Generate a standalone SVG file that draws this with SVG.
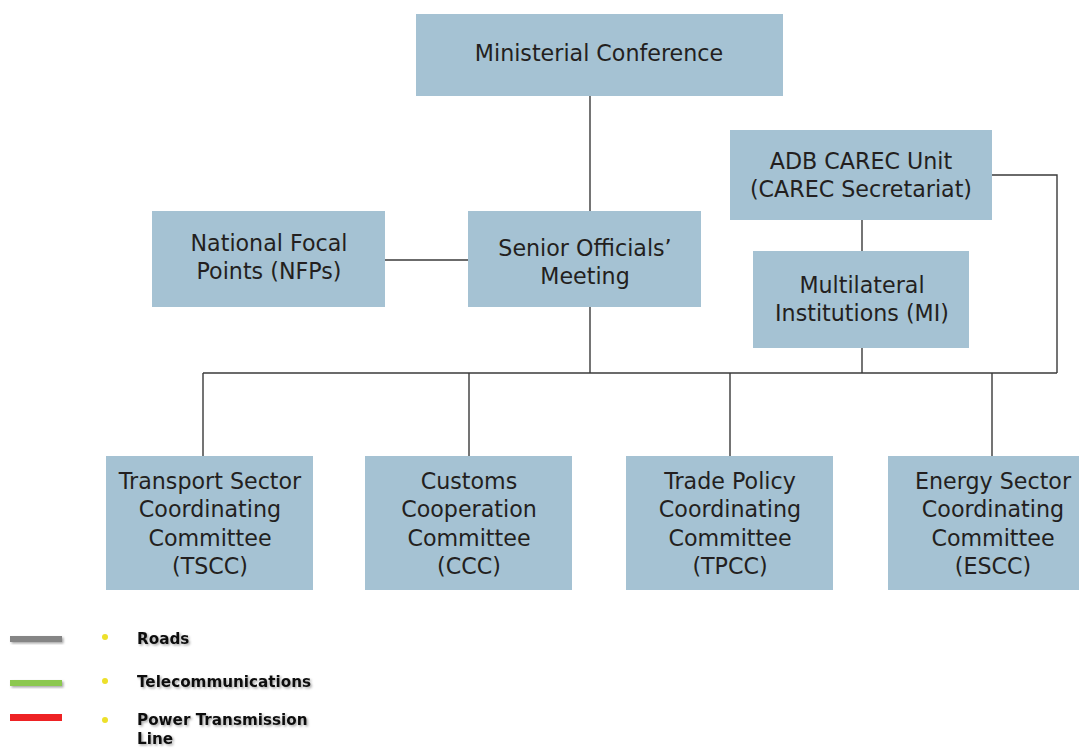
<svg xmlns="http://www.w3.org/2000/svg" width="1079" height="748" viewBox="0 0 1079 748">
<defs>
<style>
.box{fill:#a5c2d3}
.t{font-family:"DejaVu Sans","Open Sans",sans-serif;font-size:22.2px;fill:#231f20;text-anchor:middle}
.c{stroke:#3a3a3a;stroke-width:1.4;fill:none}
.lg{font-family:"DejaVu Sans","Open Sans",sans-serif;font-size:15.2px;font-weight:bold;fill:#111}
</style>
<filter id="sh" x="-10%" y="-30%" width="130%" height="180%"><feDropShadow dx="1.5" dy="1.5" stdDeviation="0.8" flood-color="#000" flood-opacity="0.35"/></filter>
</defs>
<rect width="1079" height="748" fill="#fff"/>
<g id="connectors" class="c">
<path d="M590 96V211"/>
<path d="M385 260H468"/>
<path d="M590 307V373"/>
<path d="M862 220V251"/>
<path d="M862 348V373"/>
<path d="M992 175H1057V373"/>
<path d="M203 373H1057"/>
<path d="M203 373V456M469 373V456M730 373V456M992 373V456"/>
</g>
<g id="ministerial"><rect class="box" x="416" y="14" width="367" height="82"/><text class="t" x="599" y="61">Ministerial Conference</text></g>
<g id="adb"><rect class="box" x="730" y="130" width="262" height="90"/><text class="t" x="861" y="169">ADB CAREC Unit</text><text class="t" x="861" y="197">(CAREC Secretariat)</text></g>
<g id="nfp"><rect class="box" x="152" y="211" width="233" height="96"/><text class="t" x="269" y="251">National Focal</text><text class="t" x="269" y="279">Points (NFPs)</text></g>
<g id="som"><rect class="box" x="468" y="211" width="233" height="96"/><text class="t" x="585" y="256">Senior Officials’</text><text class="t" x="585" y="284">Meeting</text></g>
<g id="mi"><rect class="box" x="753" y="251" width="216" height="97"/><text class="t" x="862" y="293">Multilateral</text><text class="t" x="862" y="321">Institutions (MI)</text></g>
<g id="tscc"><rect class="box" x="106" y="456" width="207" height="134"/><text class="t" x="210" y="489">Transport Sector</text><text class="t" x="210" y="517">Coordinating</text><text class="t" x="210" y="546">Committee</text><text class="t" x="210" y="574">(TSCC)</text></g>
<g id="ccc"><rect class="box" x="365" y="456" width="207" height="134"/><text class="t" x="469" y="489">Customs</text><text class="t" x="469" y="517">Cooperation</text><text class="t" x="469" y="546">Committee</text><text class="t" x="469" y="574">(CCC)</text></g>
<g id="tpcc"><rect class="box" x="626" y="456" width="207" height="134"/><text class="t" x="730" y="489">Trade Policy</text><text class="t" x="730" y="517">Coordinating</text><text class="t" x="730" y="546">Committee</text><text class="t" x="730" y="574">(TPCC)</text></g>
<g id="escc"><rect class="box" x="888" y="456" width="191" height="134"/><text class="t" x="993" y="489">Energy Sector</text><text class="t" x="993" y="517">Coordinating</text><text class="t" x="993" y="546">Committee</text><text class="t" x="993" y="574">(ESCC)</text></g>
<g id="legend">
<rect x="10" y="636" width="52" height="6" fill="#858585" filter="url(#sh)"/>
<rect x="10" y="680" width="52" height="6" fill="#8cc850" filter="url(#sh)"/>
<rect x="10" y="714" width="52" height="7" fill="#ee2224"/>
<circle cx="105" cy="637" r="3" fill="#ede02a"/>
<circle cx="105" cy="681" r="3" fill="#ede02a"/>
<circle cx="105" cy="720" r="3" fill="#ede02a"/>
<g filter="url(#sh)">
<text class="lg" x="137" y="644">Roads</text>
<text class="lg" x="137" y="687">Telecommunications</text>
<text class="lg" x="137" y="725">Power Transmission</text>
<text class="lg" x="137" y="744">Line</text>
</g>
</g>
</svg>
